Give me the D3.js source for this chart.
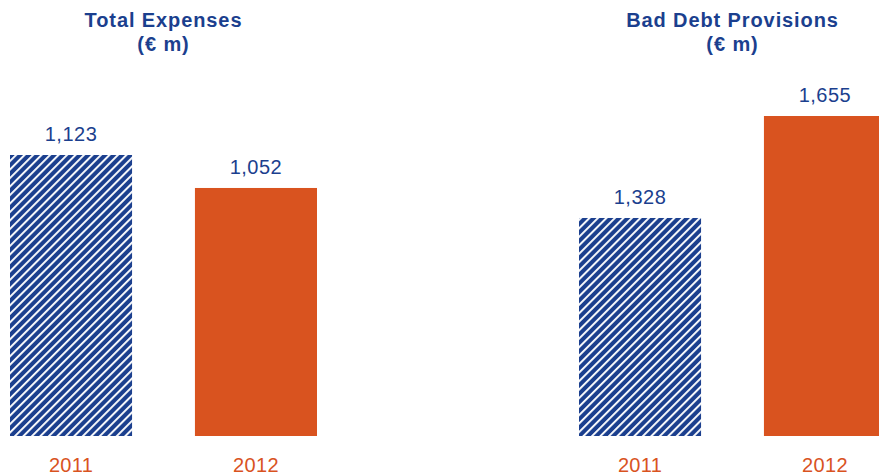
<!DOCTYPE html>
<html>
<head>
<meta charset="utf-8">
<script src="https://cdn.jsdelivr.net/npm/d3@7"></script>
<style>
  html, body { margin: 0; padding: 0; background: #fff; }
  svg { display: block; font-family: "Liberation Sans", Arial, Helvetica, sans-serif; }
</style>
</head>
<body>
<div id="chart"></div>
<script>
var years = ["2011", "2012"];
var totalExpenses = [1123, 1052];
var badDebtProvisions = [1328, 1655];
var panelTitles = [["Total Expenses", "(€ m)"], ["Bad Debt Provisions", "(€ m)"]];

var w = 879,
    h = 475,
    base = 436,
    blue = "#1b3f8e",
    orange = "#d9531f";

var svg = d3.select("#chart").append("svg")
      .attr("width", w)
      .attr("height", h);

// diagonal blue/white stripes for the 2011 bars
var defs = svg.append("defs");
var pat = defs.append("pattern")
      .attr("id", "hatch")
      .attr("patternUnits", "userSpaceOnUse")
      .attr("width", 6)
      .attr("height", 10)
      .attr("patternTransform", "rotate(45)");
pat.append("rect").attr("width", 6).attr("height", 10).attr("fill", blue);
pat.append("rect").attr("width", 1.9).attr("height", 10).attr("fill", "#fff");

var fmt = d3.format(",");

function drawPanel(values, title, xRange, yDomain, yTop) {
  var x = d3.scaleBand()
        .domain(years)
        .range(xRange)
        .paddingInner(0.34)
        .paddingOuter(0);

  var y = d3.scaleLinear()
        .domain(yDomain)
        .range([base, yTop]);

  var g = svg.append("g");
  var cx = (xRange[0] + xRange[1]) / 2;

  g.append("text")
    .attr("x", cx)
    .attr("text-anchor", "middle")
    .attr("fill", blue)
    .style("font-weight", "bold")
    .style("font-size", "20px")
    .style("letter-spacing", "0.9px")
    .selectAll("tspan")
    .data(title)
    .enter().append("tspan")
    .attr("x", cx)
    .attr("y", (d, i) => 27 + i * 24)
    .text((d) => d);

  g.selectAll("rect.bar")
    .data(values)
    .enter().append("rect")
    .attr("class", "bar")
    .attr("x", (d, i) => x(years[i]))
    .attr("width", x.bandwidth())
    .attr("y", (d) => y(d))
    .attr("height", (d) => base - y(d))
    .attr("fill", (d, i) => i == 0 ? "url(#hatch)" : orange);

  g.selectAll("text.value")
    .data(values)
    .enter().append("text")
    .attr("class", "value")
    .attr("x", (d, i) => x(years[i]) + x.bandwidth() / 2)
    .attr("y", (d) => y(d) - 14)
    .attr("text-anchor", "middle")
    .attr("fill", blue)
    .style("font-size", "20px")
    .style("letter-spacing", "0.5px")
    .text((d) => fmt(d));

  g.selectAll("text.year")
    .data(years)
    .enter().append("text")
    .attr("class", "year")
    .attr("x", (d) => x(d) + x.bandwidth() / 2)
    .attr("y", 472)
    .attr("text-anchor", "middle")
    .attr("fill", orange)
    .style("font-size", "20px")
    .style("letter-spacing", "0.3px")
    .text((d) => d);
}

drawPanel(totalExpenses, panelTitles[0], [10, 317], [518, 1123], 155);
drawPanel(badDebtProvisions, panelTitles[1], [579, 886], [629, 1655], 116);
</script>
</body>
</html>
